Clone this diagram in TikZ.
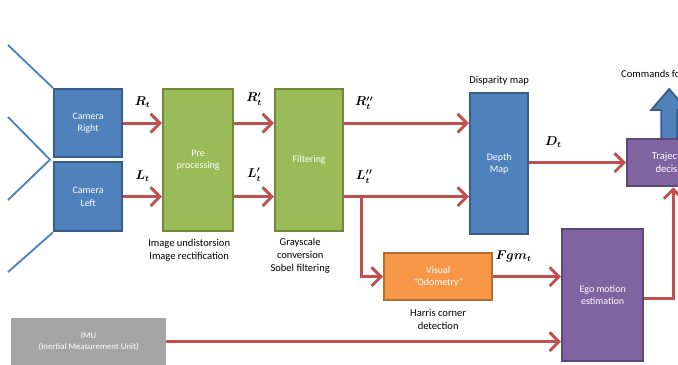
\documentclass[tikz,border=0pt]{standalone}
\usepackage{amsmath}
\usepackage{amssymb}
\usepackage{xcolor}
\usepackage{fontspec}
\setmainfont{Carlito}
\usepackage{tikz}
\usetikzlibrary{arrows.meta,calc,positioning}

\definecolor{boxblue}{HTML}{4F81BD}
\definecolor{edgeblue}{HTML}{385D8A}
\definecolor{boxgreen}{HTML}{9BBB59}
\definecolor{edgegreen}{HTML}{71893F}
\definecolor{boxorange}{HTML}{F79646}
\definecolor{edgeorange}{HTML}{B66D31}
\definecolor{boxpurple}{HTML}{8064A2}
\definecolor{edgepurple}{HTML}{5C4776}
\definecolor{boxgrey}{HTML}{A5A5A5}
\definecolor{edgegrey}{HTML}{7F7F7F}
\definecolor{flowred}{HTML}{C0504D}

\tikzset{
  block/.style={draw, line width=2pt, inner sep=0pt, text=white, align=center, font=\fontsize{8.5}{10.5}\selectfont},
  flow/.style={-{Straight Barb[length=8pt,width=16pt]}, line width=2.5pt, color=flowred},
  caption/.style={align=center, inner sep=0pt, font=\fontsize{9}{11}\selectfont},
  sig/.style={inner sep=0pt, text=black, font=\fontsize{10.5}{12}\selectfont}
}

\begin{document}
\begin{tikzpicture}

\useasboundingbox (0,0) rectangle (20.34,-10.95);
\clip (0,0) rectangle (20.34,-10.95);

\coordinate(O1) at (0,0);

\node[below right=2.64cm and 1.59cm of O1, block, fill=boxblue, draw=edgeblue, minimum width=2.04cm, minimum height=2.04cm](camr) {Camera\\Right};
\node[below right=4.83cm and 1.59cm of O1, block, fill=boxblue, draw=edgeblue, minimum width=2.04cm, minimum height=2.07cm](caml) {Camera\\Left};

\node[below right=2.64cm and 4.86cm of O1, block, fill=boxgreen, draw=edgegreen, minimum width=2.1cm, minimum height=4.26cm](pre) {Pre\\processing};
\node[below right=2.64cm and 8.22cm of O1, block, fill=boxgreen, draw=edgegreen, minimum width=2.04cm, minimum height=4.26cm](filt) {Filtering};

\node[below right=2.76cm and 14.07cm of O1, block, fill=boxblue, draw=edgeblue, minimum width=1.74cm, minimum height=4.23cm](depth) {Depth\\Map};
\node[below right=7.56cm and 11.49cm of O1, block, fill=boxorange, draw=edgeorange, minimum width=3.24cm, minimum height=1.41cm](vis) {Visual\\“Odometry”};
\node[below right=6.84cm and 16.83cm of O1, block, fill=boxpurple, draw=edgepurple, minimum width=2.43cm, minimum height=3.96cm](ego) {Ego motion\\estimation};
\node[below right=9.54cm and 0.33cm of O1, block, fill=boxgrey, draw=edgegrey!70, minimum width=4.59cm, minimum height=1.35cm, font=\fontsize{7.5}{9.5}\selectfont](imu) {IMU\\(Inertial Measurement Unit)};
\node[below right=4.14cm and 18.78cm of O1, block, fill=boxpurple, draw=edgepurple, minimum width=2.76cm, minimum height=1.41cm, font=\fontsize{9}{11}\selectfont](traj) {Trajectory\\decision};

\node[caption, above=0.2cm of depth](disp) {Disparity map};
\node[caption, below=0.2cm of pre, xshift=-0.27cm](precap) {Image undistorsion\\Image rectification};
\node[caption, below=0.18cm of filt, xshift=-0.27cm](filtcap) {Grayscale\\conversion\\Sobel filtering};
\node[caption, below=0.22cm of vis](viscap) {Harris corner\\detection};
\node[caption, anchor=west] at (18.63,-2.22) (cmd) {Commands for};

% antenna lines
\coordinate (a1) at (0.24,-1.35);
\coordinate (a2) at (0.24,-3.51);
\coordinate (a3) at (0.24,-6.0);
\coordinate (a4) at (0.24,-8.16);
\coordinate (aj) at ($(camr.south west)!0.5!(caml.north west)+(-0.09,0)$);
\draw[boxblue, line width=1.6pt] (a1) -- (camr.north west);
\draw[boxblue, line width=1.6pt] (a2) -- (aj) -- (a3);
\draw[boxblue, line width=1.6pt] (caml.south west) -- (a4);

\draw[flow] (camr.east) -- node[sig, above=0.42cm] {$\boldsymbol{R_t}$} (pre.west |- camr);
\draw[flow] (caml.east) -- node[sig, above=0.42cm] {$\boldsymbol{L_t}$} (pre.west |- caml);
\draw[flow] (pre.east |- camr) -- node[sig, above=0.48cm] {$\boldsymbol{R'_t}$} (filt.west |- camr);
\draw[flow] (pre.east |- caml) -- node[sig, above=0.42cm] {$\boldsymbol{L'_t}$} (filt.west |- caml);
\draw[flow] (filt.east |- camr) -- node[sig, pos=0.16, above=0.36cm] {$\boldsymbol{R''_t}$} (depth.west |- camr);
\draw[flow] (filt.east |- caml) -- node[sig, pos=0.16, above=0.36cm] {$\boldsymbol{L''_t}$} (depth.west |- caml);
\coordinate (br) at ($(filt.east |- caml)+(0.51,0)$);
\draw[flow] (br) |- (vis.west);
\draw[flow] (depth.east |- traj) -- node[sig, pos=0.25, above=0.42cm] {$\boldsymbol{D_t}$} (traj.west);
\draw[flow] (vis.east) -- node[sig, pos=0.3, above=0.4cm] {$\boldsymbol{Fgm_t}$} (ego.west |- vis);
\draw[flow] (imu.east) -- (ego.west |- imu);
\draw[flow] ($(ego.east)+(0,-0.09)$) -| (traj.south);

% output arrow
\draw[fill=boxblue, draw=edgeblue, line width=1.5pt] ($(traj.north)+(-0.36,0)$) -- ++(0,0.84) -- ++(-0.3,0) -- ++(0.54,0.63) -- ++(0.54,-0.63) -- ++(-0.3,0) -- ++(0,-0.84);

\end{tikzpicture}
\end{document}
